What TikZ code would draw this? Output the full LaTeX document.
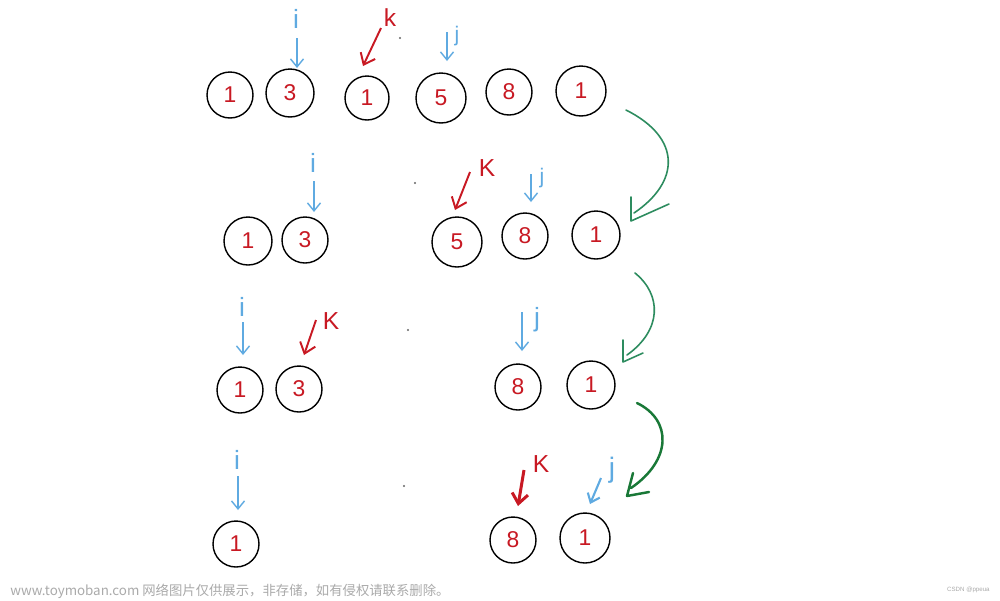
\documentclass[tikz,border=0pt]{standalone}
\usepackage{fontspec}
\setmainfont{Liberation Sans}
\newfontfamily\cjk{Noto Sans CJK SC}
\usetikzlibrary{arrows.meta}
\definecolor{numred}{RGB}{200,25,35}
\definecolor{ptrblue}{RGB}{95,170,225}
\definecolor{grn}{RGB}{45,140,95}
\definecolor{dgrn}{RGB}{25,120,55}
\definecolor{wm}{RGB}{170,170,170}
\tikzset{
  cell/.style={circle, draw, line width=0.8pt, inner sep=0pt, minimum size=0.94cm,
    text=numred, font=\fontsize{13}{13}\selectfont},
  ilbl/.style={text=ptrblue, inner sep=0pt, font=\fontsize{15}{15}\selectfont},
  jlbl/.style={text=ptrblue, inner sep=0pt, font=\fontsize{12}{12}\selectfont},
  klbl/.style={text=numred, inner sep=0pt, font=\fontsize{14}{14}\selectfont},
  barrow/.style={ptrblue, line width=0.8pt, -{Straight Barb[length=0.16cm,width=0.26cm]}},
  rarrow/.style={numred, line width=1.1pt, -{Straight Barb[length=0.2cm,width=0.32cm]}},
  gline/.style={line width=0.9pt, line cap=round, line join=round},
  speck/.style={fill=black!60, draw=none, circle, inner sep=0pt, minimum size=1.2pt},
}
\begin{document}
\begin{tikzpicture}[x=0.02cm,y=-0.02cm]
\useasboundingbox[fill=white] (0,0) rectangle (1000,600);

% ---- row 1 ----
\node[cell, minimum size=0.92cm] (a1) at (230,95) {1};
\node[cell, minimum size=0.96cm] (a2) at (290,93) {3};
\node[cell, minimum size=0.88cm] (a3) at (367,98) {1};
\node[cell, minimum size=1.0cm] (a4) at (441,98) {5};
\node[cell, minimum size=0.92cm] (a5) at (509,92) {8};
\node[cell, minimum size=1.0cm] (a6) at (581,91) {1};
\node[ilbl] (ai) at (296,19) {i};
\coordinate (ais) at (297,38); \coordinate (aie) at (297,68);
\draw[barrow] (ais) -- (aie);
\node[klbl] (ak) at (390,18) {k};
\coordinate (aks) at (381,28); \coordinate (ake) at (363,66);
\draw[rarrow] (aks) -- (ake);
\node[jlbl] (aj) at (457,36) {j};
\coordinate (ajs) at (447,32); \coordinate (aje) at (447,61);
\draw[barrow] (ajs) -- (aje);
\node[speck] (d1) at (400,38) {};

% ---- row 2 ----
\node[cell, minimum size=0.96cm] (b1) at (248,241) {1};
\node[cell, minimum size=0.92cm] (b2) at (305,240) {3};
\node[cell, minimum size=1.0cm] (b3) at (457,242) {5};
\node[cell, minimum size=0.92cm] (b4) at (525,236) {8};
\node[cell, minimum size=0.96cm] (b5) at (596,235) {1};
\node[ilbl] (bi) at (313,163) {i};
\coordinate (bis) at (314,181); \coordinate (bie) at (314,212);
\draw[barrow] (bis) -- (bie);
\node[klbl] (bk) at (487,168) {K};
\coordinate (bks) at (470,172); \coordinate (bke) at (455,210);
\draw[rarrow] (bks) -- (bke);
\node[jlbl] (bj) at (542,178) {j};
\coordinate (bjs) at (531,174); \coordinate (bje) at (531,202);
\draw[barrow] (bjs) -- (bje);
\node[speck] (d2) at (415,183) {};

% ---- row 3 ----
\node[cell, minimum size=0.92cm] (c1) at (240,390) {1};
\node[cell, minimum size=0.92cm] (c2) at (299,389) {3};
\node[cell, minimum size=0.92cm] (c3) at (518,387) {8};
\node[cell, minimum size=0.96cm] (c4) at (591,385) {1};
\node[ilbl] (ci) at (242,307) {i};
\coordinate (cis) at (243,322); \coordinate (cie) at (243,355);
\draw[barrow] (cis) -- (cie);
\node[klbl] (ck) at (331,321) {K};
\coordinate (cks) at (316,320); \coordinate (cke) at (304,355);
\draw[rarrow] (cks) -- (cke);
\node[jlbl, font=\fontsize{15}{15}\selectfont] (cj) at (537,320) {j};
\coordinate (cjs) at (522,312); \coordinate (cje) at (522,351);
\draw[barrow] (cjs) -- (cje);
\node[speck] (d3) at (408,330) {};

% ---- row 4 ----
\node[cell, minimum size=0.92cm] (e1) at (236,544) {1};
\node[cell, minimum size=0.92cm] (e2) at (513,540) {8};
\node[cell, minimum size=1.0cm] (e3) at (585,538) {1};
\node[ilbl] (ei) at (237,460) {i};
\coordinate (eis) at (238,476); \coordinate (eie) at (238,510);
\draw[barrow] (eis) -- (eie);
\node[klbl] (ek) at (541,464) {K};
\coordinate (eks) at (524,470); \coordinate (eke) at (518,506);
\draw[rarrow, line width=1.7pt] (eks) -- (eke);
\node[jlbl, font=\fontsize{16}{16}\selectfont] (ej) at (612,470) {j};
\coordinate (ejs) at (601,478); \coordinate (eje) at (590,504);
\draw[barrow, line width=1.2pt] (ejs) -- (eje);
\node[speck] (d4) at (404,486) {};

% ---- green transition arrows (hand-drawn heads) ----
\coordinate (g1s) at (626,110); \coordinate (g1e) at (634,213);
\coordinate (g1a) at (631,197); \coordinate (g1t) at (631,221); \coordinate (g1b) at (669,204);
\draw[gline, grn] (g1s) .. controls (682,138) and (680,182) .. (g1e);
\draw[gline, grn] (g1a) -- (g1t) -- (g1b);

\coordinate (g2s) at (635,273); \coordinate (g2e) at (627,355);
\coordinate (g2a) at (623,340); \coordinate (g2t) at (623,362); \coordinate (g2b) at (643,353);
\draw[gline, grn] (g2s) .. controls (662,295) and (662,330) .. (g2e);
\draw[gline, grn] (g2a) -- (g2t) -- (g2b);

\coordinate (g3s) at (637,403); \coordinate (g3e) at (631,488);
\coordinate (g3a) at (633,473); \coordinate (g3t) at (627,496); \coordinate (g3b) at (649,492);
\draw[gline, dgrn, line width=1.4pt] (g3s) .. controls (672,420) and (672,460) .. (g3e);
\draw[gline, dgrn, line width=1.4pt] (g3a) -- (g3t) -- (g3b);

% ---- watermark ----
\node[anchor=west, text=wm, inner sep=0pt, font=\cjk\fontsize{7.6}{8}\selectfont] (wm1) at (10,591)
  {www.toymoban.com 网络图片仅供展示，非存储，如有侵权请联系删除。};
\node[anchor=east, text=wm, inner sep=0pt, font=\fontsize{3.5}{4}\selectfont] (wm2) at (990,590) {CSDN @ppeua};
\end{tikzpicture}
\end{document}
